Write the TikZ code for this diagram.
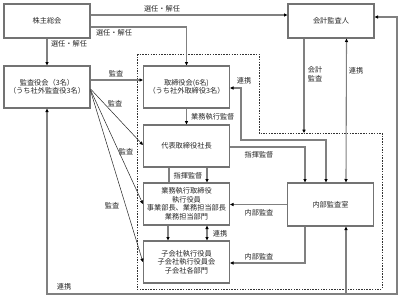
\documentclass[tikz,border=0pt]{standalone}
\usepackage{fontspec}
\setmainfont{Noto Sans CJK JP}
\usetikzlibrary{arrows.meta,calc}
\begin{document}
\begin{tikzpicture}[x=1pt,y=-1pt,
  >={Triangle[length=3.4pt,width=3.2pt,color=black]},
  every node/.style={font=\fontsize{7.2}{8.5}\selectfont, text=black!85},
  box/.style={draw=black!55, fill=white, line width=1.2pt, minimum width=86pt, minimum height=42pt, align=center, inner sep=1pt},
  conn/.style={draw=black!50, line width=1.1pt, ->},
  bconn/.style={draw=black!50, line width=1.1pt, <->},
  plainln/.style={draw=black!50, line width=1.1pt},
  diag/.style={draw=black!85, line width=0.5pt, ->},
  lbl/.style={inner sep=0pt, align=center}]
\useasboundingbox[fill=white] (0,0) rectangle (402,300);

% group boundary
\draw[black!80, line width=0.6pt, dash pattern=on 1.5pt off 1.2pt]
  (137,54) -- (259,54) -- (259,133) -- (382,133) -- (382,289) -- (137,289) -- cycle;
\coordinate (gp) at (304,133);

% boxes
\node[box, minimum height=34pt] (kabu) at (47,21) {株主総会};
\node[box, minimum height=34pt] (kaikei) at (331,21) {会計監査人};
\node[box] (kansa) at (47,87) {監査役会（3名）\\（うち社外監査役3名）};
\node[box] (tori) at (186.5,87) {取締役会(6名)\\（うち社外取締役3名）};
\node[box] (daihyo) at (186.5,146) {代表取締役社長};
\node[box] (gyomu) at (186.5,204) {業務執行取締役\\執行役員\\事業部長、業務担当部長\\業務担当部門};
\node[box] (kogaisha) at (186.5,262) {子会社執行役員\\子会社執行役員会\\子会社各部門};
\node[box, minimum height=43pt] (naibu) at (330.5,204.5) {内部監査室};

% 株主総会
\draw[conn] ([yshift=6pt]kabu.east) -- ([yshift=6pt]kaikei.west);
\node[lbl] (l1) at (162,9) {選任・解任};
\draw[conn] ([yshift=-6pt]kabu.east) -| (tori.north);
\node[lbl] (l2) at (114,33) {選任・解任};
\draw[conn] (kabu.south) -- (kansa.north);
\node[lbl] (l3) at (69,44) {選任・解任};

% 監査役会 audits
\draw[conn] ([yshift=7pt]kansa.east) -- ([yshift=7pt]tori.west);
\node[lbl] (a1) at (116,74) {監査};
\draw[diag] ([yshift=-2pt]kansa.east) -- ([yshift=1pt]daihyo.west);
\node[lbl] (a2) at (115,104) {監査};
\draw[diag] ([yshift=-3pt]kansa.east) -- (gyomu.west);
\node[lbl] (a3) at (126,152) {監査};
\draw[diag] ([yshift=-4pt]kansa.east) -- (kogaisha.west);
\node[lbl] (a4) at (112,206) {監査};

% management chain
\draw[conn] (tori.south) -- (daihyo.north);
\node[lbl, anchor=west] (m1) at (191,117) {業務執行監督};
\draw[plainln] ([xshift=-17.5pt]daihyo.south) -- ([xshift=-17.5pt]gyomu.north);
\draw[conn] ([xshift=20.5pt]daihyo.south) -- ([xshift=20.5pt]gyomu.north);
\node[lbl] (m2) at (188,176) {指揮監督};
\draw[conn] ([xshift=-18.5pt]gyomu.south) -- ([xshift=-18.5pt]kogaisha.north);
\draw[bconn] ([xshift=20.5pt]gyomu.south) -- ([xshift=20.5pt]kogaisha.north);
\node[lbl] (m3) at (220,234) {連携};
\draw[conn] ([yshift=-1pt]daihyo.east) -| ([xshift=-25.5pt]naibu.north);
\node[lbl] (m4) at (259,155) {指揮監督};

% internal audit
\draw[conn] (naibu.west) -- (naibu.west -| gyomu.east);
\node[lbl] (n1) at (259,213) {内部監査};
\draw[conn] ([xshift=-25.5pt]naibu.south) |- ([yshift=-1pt]kogaisha.east);
\node[lbl] (n2) at (259,257) {内部監査};

% 取締役会 - 内部監査室
\draw[bconn] ([yshift=-1pt]tori.east) -- (241,88) -- (241,140) -- (326,140) -- ([xshift=-4.5pt]naibu.north);
\node[lbl] (r1) at (244,81) {連携};

% 会計監査人
\draw[conn] ([xshift=-27pt]kaikei.south) -- (gp);
\node[lbl] (k1) at (315,74) {会計\\監査};
\draw[bconn] ([xshift=15.5pt]naibu.north) -- ([xshift=15.5pt]kaikei.south);
\node[lbl] (k2) at (356,71) {連携};

% outer 連携 loop
\coordinate (o1) at (47,294);
\coordinate (o2) at (346,294);
\coordinate (o3) at (397,294);
\coordinate (o4) at (397,17);
\draw[bconn] (kansa.south) -- (o1) -- (o3) -- (o4) -- ([yshift=4pt]kaikei.east);
\draw[conn] (o2) -- ([xshift=15.5pt]naibu.south);
\node[lbl] (o5) at (64,287) {連携};
\end{tikzpicture}
\end{document}
